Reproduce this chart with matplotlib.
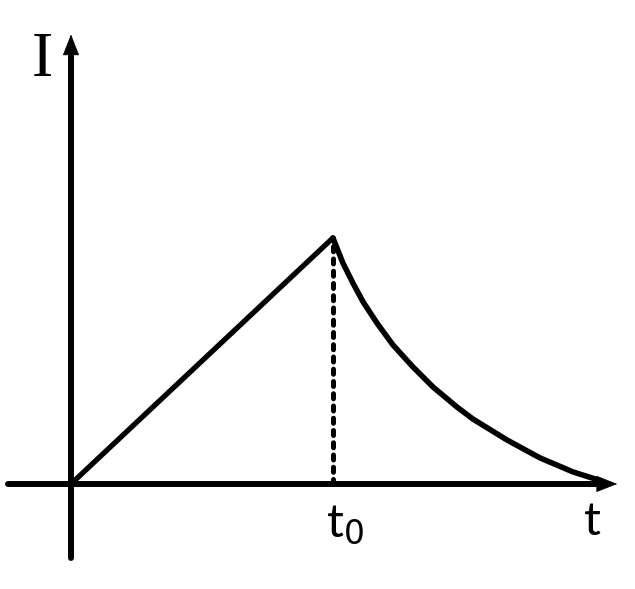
import matplotlib
matplotlib.use("Agg")
import matplotlib.pyplot as plt

# time in units of t0, current in units of the peak current
rise_t = [0.0, 1.0]
rise_i = [0.0, 1.0]

decay_t = [1.0, 1.038, 1.076, 1.115, 1.168, 1.229, 1.305, 1.382, 1.473,
           1.534, 1.664, 1.790, 1.916, 2.019]
decay_i = [1.0, 0.898, 0.817, 0.740, 0.654, 0.565, 0.476, 0.394, 0.313,
           0.264, 0.179, 0.106, 0.049, 0.014]

t_peak = 1.0
i_peak = 1.0

fig = plt.figure(figsize=(6.35, 5.89), dpi=100)
ax = fig.add_axes([0, 0, 1, 1])
ax.set_xlim(-0.271, 2.153)
ax.set_ylim(-0.427, 1.967)
ax.axis("off")

# axes with arrows
ax.plot([-0.24, 2.03], [0, 0], color="black", lw=4.3, solid_capstyle="round")
ax.plot([0, 0], [-0.30, 1.74], color="black", lw=4.3, solid_capstyle="round")
ax.annotate("", xy=(2.085, 0), xytext=(2.0, 0),
            arrowprops=dict(arrowstyle="-|>,head_length=1.4,head_width=0.55",
                            color="black", lw=0.5, shrinkA=0, shrinkB=0))
ax.annotate("", xy=(0, 1.827), xytext=(0, 1.74),
            arrowprops=dict(arrowstyle="-|>,head_length=1.4,head_width=0.55",
                            color="black", lw=0.5, shrinkA=0, shrinkB=0))

# the current
ax.plot(rise_t, rise_i, color="black", lw=3.8, solid_capstyle="round")
ax.plot(decay_t, decay_i, color="black", lw=4.0, solid_capstyle="round",
        solid_joinstyle="round")
ax.plot([t_peak, t_peak], [0, i_peak], color="black", lw=3.6,
        linestyle=(0, (1.0, 1.45)), dash_capstyle="round")

# labels
ax.text(-0.11, 1.72, "I", fontsize=46, family="Liberation Serif",
        ha="center", va="center")
ax.text(1.045, -0.165, "t$_0$", fontsize=34, family="Lato",
        ha="center", va="center")
ax.text(1.99, -0.155, "t", fontsize=34, family="Lato",
        ha="center", va="center")

fig.savefig("out.png", dpi=100)
